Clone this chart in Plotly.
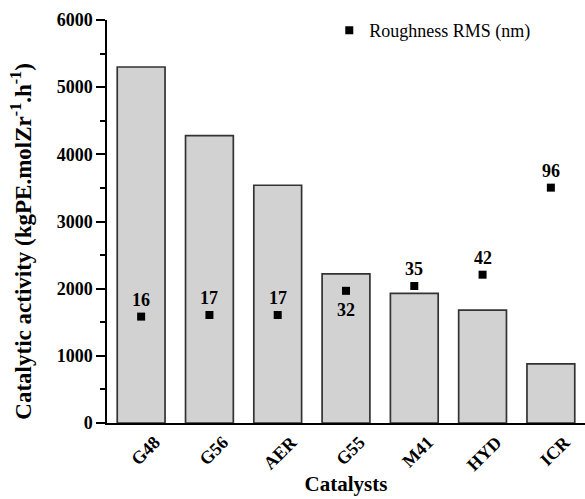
import plotly.graph_objects as go

# Catalyst series
catalysts = ["G48", "G56", "AER", "G55", "M41", "HYD", "ICR"]
activity = [5300, 4280, 3540, 2220, 1930, 1680, 880]      # kgPE.molZr-1.h-1
roughness = [16, 17, 17, 32, 35, 42, 96]                    # RMS, nm
label_pos = ["top", "top", "top", "bottom", "top", "top", "top"]

FONT = "Liberation Serif"

fig = go.Figure()

fig.add_trace(go.Bar(
    x=catalysts, y=activity, width=0.70,
    marker=dict(color="#d2d2d2", line=dict(color="#333333", width=1.7)),
    showlegend=False, yaxis="y",
))

fig.add_trace(go.Scatter(
    x=catalysts, y=roughness, mode="markers", yaxis="y2",
    marker=dict(symbol="square", size=8, color="black"),
    name="Roughness RMS (nm)", showlegend=True,
))

# value labels for roughness, placed above or below each marker
for c, r, p in zip(catalysts, roughness, label_pos):
    fig.add_annotation(
        x=c, y=r, yref="y2", text=f"<b>{r}</b>", showarrow=False,
        yshift=17 if p == "top" else -19,
        font=dict(family=FONT, size=18, color="black"),
    )

# vertical axis title, drawn as rotated text left of the tick labels
fig.add_annotation(
    xref="paper", yref="paper", x=0, y=0.45, xshift=-85,
    xanchor="center", yanchor="middle", textangle=-90, showarrow=False,
    text="<b>Catalytic activity (kgPE.molZr<sup>-1</sup>.h<sup>-1</sup>)</b>",
    font=dict(family=FONT, size=23, color="black"),
)

# tick labels sit slightly right of each bar centre, rotated 45 degrees
tick_pos = [i + 0.2 for i in range(len(catalysts))]

fig.update_layout(
    width=585, height=499,
    margin=dict(l=107, r=0, t=20, b=76, autoexpand=False),
    plot_bgcolor="white", paper_bgcolor="white",
    font=dict(family=FONT, color="black"),
    xaxis=dict(
        range=[-0.5, 6.5], showline=True, linecolor="black", linewidth=1.5,
        ticks="", tickangle=-45, tickvals=tick_pos,
        ticktext=[f"<b>{c}</b>" for c in catalysts],
        tickfont=dict(family=FONT, size=18, color="black"),
        title=dict(text="<b>Catalysts</b>", font=dict(family=FONT, size=21), standoff=2),
        showgrid=False, zeroline=False, automargin=False,
    ),
    yaxis=dict(
        range=[0, 6000], dtick=1000, showline=True, linecolor="black", linewidth=1.5,
        ticks="outside", ticklen=9, tickwidth=1.5, tickcolor="black",
        minor=dict(dtick=500, ticks="outside", ticklen=5, tickwidth=1.5, tickcolor="black"),
        tickprefix="<b>", ticksuffix="</b>",
        tickfont=dict(family=FONT, size=18, color="black"),
        showgrid=False, zeroline=False, automargin=False,
    ),
    yaxis2=dict(
        range=[-50, 200], overlaying="y", side="right", visible=False,
        showgrid=False, zeroline=False,
    ),
    legend=dict(
        x=0.465, y=1.02, xanchor="left", yanchor="top",
        bgcolor="rgba(0,0,0,0)", font=dict(family=FONT, size=18, color="black"),
    ),
)

fig.write_html("out.html")
